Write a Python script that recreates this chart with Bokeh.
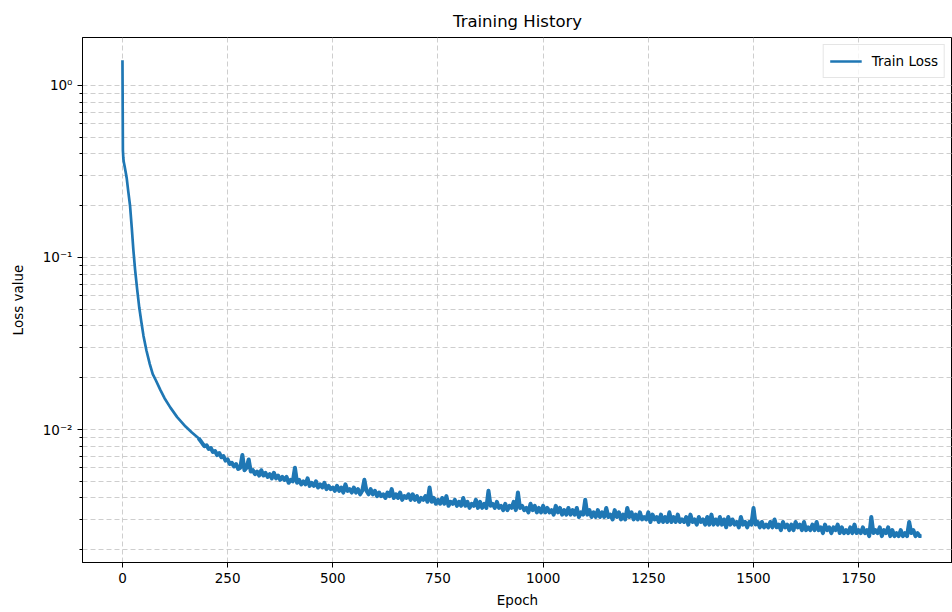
from bokeh.plotting import figure
from bokeh.models import Range1d, FixedTicker, CustomJSTickFormatter, Legend, LegendItem
from bokeh.embed import file_html
from bokeh.resources import INLINE

# ---------------- data ----------------
early_epochs = [0, 1, 2, 3, 5, 8, 10, 14, 18, 22, 26, 30, 35, 40, 45, 50, 57, 65,
                72, 79, 90, 100, 114, 130, 150, 165, 181]
early_loss = [1.40, 0.42, 0.38, 0.36, 0.34, 0.31, 0.29, 0.24, 0.20, 0.15, 0.11,
              0.085, 0.065, 0.051, 0.042, 0.035, 0.0288, 0.024, 0.021, 0.0194,
              0.017, 0.0152, 0.0134, 0.0118, 0.0104, 0.0096, 0.0089]

late_epochs = list(range(190, 1900, 5)) + [1899]
late_loss = [
    # 190 - 285
    0.0083, 0.0080, 0.0081, 0.0077, 0.0078, 0.0074, 0.0075, 0.0071, 0.0073, 0.0069,
    0.0070, 0.0066, 0.0067, 0.0063, 0.0064, 0.0061, 0.0063, 0.0059, 0.0060, 0.0071,
    # 290 - 385
    0.0058, 0.0060, 0.0067, 0.0057, 0.0058, 0.0055, 0.0057, 0.0054, 0.0058, 0.0054,
    0.0056, 0.0053, 0.0055, 0.0052, 0.0056, 0.0052, 0.0054, 0.0051, 0.0053, 0.0051,
    # 390 - 485
    0.0053, 0.0049, 0.0051, 0.0050, 0.0060, 0.0049, 0.0051, 0.0048, 0.0050, 0.0048,
    0.0052, 0.0047, 0.0049, 0.0047, 0.0050, 0.0046, 0.0048, 0.0046, 0.0049, 0.0045,
    # 490 - 585
    0.0047, 0.0045, 0.0046, 0.0044, 0.0047, 0.0044, 0.0046, 0.0043, 0.0048, 0.0044,
    0.0045, 0.0043, 0.0046, 0.0043, 0.0045, 0.0042, 0.0044, 0.0051, 0.0044, 0.0042,
    # 590 - 685
    0.0045, 0.0042, 0.0044, 0.0041, 0.0043, 0.0041, 0.0042, 0.0040, 0.0043, 0.0041,
    0.0045, 0.0040, 0.0042, 0.0040, 0.0043, 0.0039, 0.0041, 0.0040, 0.0042, 0.0039,
    # 690 - 785
    0.0042, 0.0039, 0.0041, 0.0038, 0.0040, 0.0039, 0.0041, 0.0038, 0.0046, 0.0038,
    0.0040, 0.0037, 0.0039, 0.0037, 0.0040, 0.0037, 0.0041, 0.0036, 0.0038, 0.0037,
    # 790 - 885
    0.0039, 0.0036, 0.0038, 0.0036, 0.0040, 0.0036, 0.0038, 0.0035, 0.0037, 0.0036,
    0.0039, 0.0035, 0.0038, 0.0035, 0.0037, 0.0035, 0.0044, 0.0036, 0.0037, 0.0035,
    # 890 - 985
    0.0038, 0.0035, 0.0036, 0.0034, 0.0037, 0.0034, 0.0036, 0.0035, 0.0038, 0.0034,
    0.0043, 0.0035, 0.0036, 0.0034, 0.0035, 0.0033, 0.0037, 0.0034, 0.0036, 0.0033,
    # 990 - 1085
    0.0035, 0.0033, 0.0036, 0.0033, 0.0035, 0.0033, 0.0034, 0.0032, 0.0036, 0.0033,
    0.0035, 0.0032, 0.0034, 0.0032, 0.0035, 0.0032, 0.0034, 0.0032, 0.0035, 0.0031,
    # 1090 - 1185
    0.0033, 0.0032, 0.0039, 0.0032, 0.0034, 0.0031, 0.0033, 0.0031, 0.0034, 0.0031,
    0.0033, 0.0031, 0.0035, 0.0031, 0.0032, 0.0030, 0.0034, 0.0031, 0.0033, 0.0030,
    # 1190 - 1285
    0.0032, 0.0030, 0.0035, 0.0031, 0.0033, 0.0030, 0.0032, 0.0030, 0.0033, 0.0030,
    0.0031, 0.0030, 0.0033, 0.0029, 0.0032, 0.0030, 0.0031, 0.0029, 0.0032, 0.0029,
    # 1290 - 1385
    0.0031, 0.0029, 0.0033, 0.0029, 0.0031, 0.0029, 0.0032, 0.0029, 0.0030, 0.0029,
    0.0031, 0.0028, 0.0032, 0.0029, 0.0030, 0.0028, 0.0031, 0.0029, 0.0030, 0.0028,
    # 1390 - 1485
    0.0031, 0.0028, 0.0032, 0.0028, 0.0030, 0.0028, 0.0031, 0.0028, 0.0030, 0.0027,
    0.0031, 0.0028, 0.0030, 0.0028, 0.0029, 0.0027, 0.0031, 0.0028, 0.0029, 0.0027,
    # 1490 - 1585
    0.0029, 0.0028, 0.0035, 0.0028, 0.0029, 0.0027, 0.0029, 0.0027, 0.0028, 0.0027,
    0.0029, 0.0027, 0.0030, 0.0027, 0.0028, 0.0026, 0.0029, 0.0027, 0.0028, 0.0026,
    # 1590 - 1685
    0.0028, 0.0026, 0.0029, 0.0027, 0.0028, 0.0026, 0.0029, 0.0026, 0.0027, 0.0026,
    0.0028, 0.0026, 0.0029, 0.0026, 0.0027, 0.0025, 0.0028, 0.0026, 0.0027, 0.0025,
    # 1690 - 1785
    0.0027, 0.0026, 0.0028, 0.0025, 0.0027, 0.0025, 0.0026, 0.0025, 0.0027, 0.0025,
    0.0028, 0.0025, 0.0026, 0.0025, 0.0027, 0.0025, 0.0026, 0.0024, 0.0031, 0.0025,
    # 1790 - 1885
    0.0026, 0.0025, 0.0027, 0.0024, 0.0026, 0.0025, 0.0027, 0.0024, 0.0026, 0.0024,
    0.0025, 0.0024, 0.0026, 0.0024, 0.0025, 0.0024, 0.0029, 0.0025, 0.0026, 0.0024,
    # 1890, 1895, 1899
    0.0025, 0.0024, 0.0024,
]

epochs = early_epochs + late_epochs
train_loss = early_loss + late_loss
assert len(epochs) == len(train_loss)

x_ticks = [0, 250, 500, 750, 1000, 1250, 1500, 1750]
y_major = [0.01, 0.1, 1]
y_minor = [m * d for d in (0.001, 0.01, 0.1) for m in range(2, 10)]

FONT = "DejaVu Sans"
BLUE = "#1f77b4"

p = figure(width=952, height=612, y_axis_type="log",
           x_range=Range1d(-95, 1973), y_range=Range1d(0.001686, 1.9),
           output_backend="svg", toolbar_location=None,
           min_border_left=82, min_border_right=0, min_border_top=37,
           min_border_bottom=50)

p.title.text = "Training History"
p.title.align = "center"
p.title.text_font = FONT
p.title.text_font_size = "16.5px"
p.title.text_font_style = "normal"
p.title.text_color = "#000000"
p.title.standoff = 13

r = p.line(epochs, train_loss, line_color=BLUE, line_width=2.7)
# the noisy tail of the curve reads as a thicker band in the reference
p.line(early_epochs[-1:] + late_epochs, early_loss[-1:] + late_loss,
       line_color=BLUE, line_width=4.0, line_join="round")

# axes
p.xaxis.ticker = FixedTicker(ticks=x_ticks)
p.yaxis.ticker = FixedTicker(ticks=y_major, minor_ticks=y_minor)
p.yaxis.formatter = CustomJSTickFormatter(code="""
const e = Math.round(Math.log10(tick));
const sup = {'0':'\u2070','1':'\u00b9','2':'\u00b2','3':'\u00b3','4':'\u2074',
             '5':'\u2075','6':'\u2076','7':'\u2077','8':'\u2078','9':'\u2079','-':'\u207b'};
return '10' + String(e).split('').map(c => sup[c]).join('');
""")
for ax in (p.xaxis[0], p.yaxis[0]):
    ax.axis_line_color = "black"
    ax.axis_line_width = 1
    ax.major_tick_line_color = "black"
    ax.major_tick_in = 0
    ax.major_tick_out = 5
    ax.minor_tick_in = 0
    ax.minor_tick_out = 3
    ax.major_label_text_font = FONT
    ax.major_label_text_font_size = "13.5px"
    ax.major_label_text_color = "#000000"
    ax.axis_label_text_font = FONT
    ax.axis_label_text_font_size = "13.5px"
    ax.axis_label_text_font_style = "normal"
    ax.axis_label_text_color = "#000000"
p.xaxis.minor_tick_line_color = None
p.yaxis.minor_tick_line_color = "black"
p.xaxis.axis_label = "Epoch"
p.yaxis.axis_label = "Loss value"
p.xaxis.major_label_standoff = 5
p.xaxis.axis_label_standoff = 6
p.yaxis.major_label_standoff = 5
p.yaxis.axis_label_standoff = 14

# grid
for g in (p.xgrid[0], p.ygrid[0]):
    g.grid_line_color = "#c8c8c8"
    g.grid_line_dash = "5 3"
    g.grid_line_width = 0.9
p.ygrid.minor_grid_line_color = "#c8c8c8"
p.ygrid.minor_grid_line_dash = "5 3"
p.ygrid.minor_grid_line_width = 0.9

p.outline_line_color = "black"
p.outline_line_width = 1
p.background_fill_color = "white"
p.border_fill_color = "white"

legend = Legend(items=[LegendItem(label="Train Loss", renderers=[r])],
                location="top_right")
legend.label_text_font = FONT
legend.label_text_font_size = "13.5px"
legend.label_text_color = "#000000"
legend.border_line_color = "#cccccc"
legend.border_line_width = 1
legend.background_fill_alpha = 0.8
legend.margin = 7
legend.padding = 6
legend.glyph_width = 32
legend.label_standoff = 10
legend.spacing = 0
p.add_layout(legend)

open("out.html", "w").write(file_html(p, INLINE))
